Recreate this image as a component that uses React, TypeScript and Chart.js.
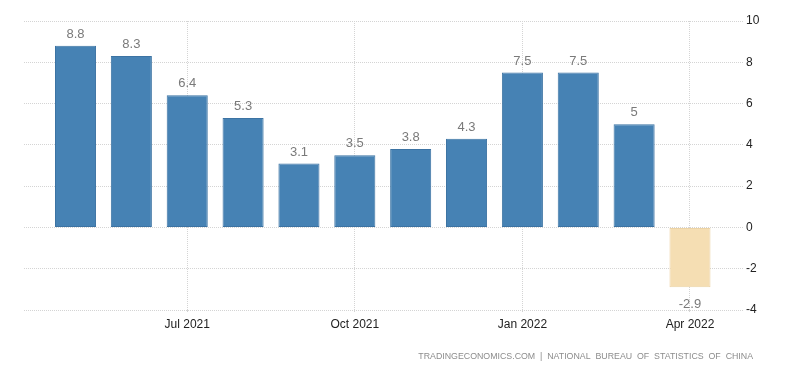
import React, { useEffect, useRef } from "react";
import { Chart, registerables } from "chart.js";

Chart.register(...registerables);

const months = [
  "May 2021", "Jun 2021", "Jul 2021", "Aug 2021", "Sep 2021", "Oct 2021",
  "Nov 2021", "Dec 2021", "Jan 2022", "Feb 2022", "Mar 2022", "Apr 2022",
];
const values = [8.8, 8.3, 6.4, 5.3, 3.1, 3.5, 3.8, 4.3, 7.5, 7.5, 5, -2.9];
const tickIndexes = [2, 5, 8, 11];
const yTicks = [-4, -2, 0, 2, 4, 6, 8, 10];
const sourceText = "TRADINGECONOMICS.COM  |  NATIONAL  BUREAU  OF  STATISTICS  OF  CHINA";

const FONT = "'Liberation Sans', Arial, sans-serif";

const labelPlugin = {
  id: "valueLabels",
  afterDatasetsDraw(chart: any) {
    const ctx = chart.ctx;
    const meta = chart.getDatasetMeta(0);
    ctx.save();
    ctx.font = `13px ${FONT}`;
    ctx.fillStyle = "#7a7a7a";
    ctx.textAlign = "center";
    meta.data.forEach((bar: any, i: number) => {
      const v = values[i];
      const txt = String(v);
      if (v >= 0) {
        ctx.textBaseline = "bottom";
        ctx.fillText(txt, bar.x, bar.y - 5);
      } else {
        ctx.textBaseline = "top";
        ctx.fillText(txt, bar.x, bar.y + 11);
      }
    });
    ctx.restore();
  },
  afterDraw(chart: any) {
    const ctx = chart.ctx;
    ctx.save();
    ctx.font = `8.8px ${FONT}`;
    ctx.fillStyle = "#8c8c8c";
    ctx.textAlign = "right";
    ctx.textBaseline = "middle";
    ctx.fillText(sourceText, 753, 357);
    ctx.restore();
  },
};

export default function App() {
  const ref = useRef<HTMLCanvasElement>(null);
  useEffect(() => {
    if (!ref.current) return;
    const chart = new Chart(ref.current, {
      type: "bar",
      data: {
        datasets: [
          {
            data: values.map((v, i) => ({ x: i, y: v })),
            backgroundColor: values.map((v) => (v >= 0 ? "#4682b4" : "#f5deb3")),
            borderColor: values.map((v) => (v >= 0 ? "#3c73a3" : "#ecd3a6")),
            borderWidth: 1,
            borderSkipped: false,
            categoryPercentage: 1,
            barPercentage: 0.735,
          } as any,
        ],
      },
      options: {
        animation: false,
        responsive: true,
        maintainAspectRatio: false,
        layout: { padding: { left: 24, top: 21, right: 0, bottom: 0 } },
        plugins: { legend: { display: false }, tooltip: { enabled: false } },
        scales: {
          x: {
            type: "linear",
            offset: false,
            min: -0.922,
            max: 11.949,
            afterBuildTicks: (scale: any) => {
              scale.ticks = tickIndexes.map((v) => ({ value: v }));
            },
            afterFit: (scale: any) => {
              scale.height = 63;
            },
            ticks: {
              autoSkip: false,
              maxRotation: 0,
              padding: 5,
              color: "#222222",
              font: { family: FONT, size: 12 },
              callback: (v: any) => months[v as number] ?? "",
            },
            grid: { offset: false, color: "#d4d4d4", drawTicks: true, tickLength: 2 },
            border: { display: false, dash: [1, 1] },
          },
          y: {
            position: "right",
            min: -4,
            max: 10,
            afterBuildTicks: (scale: any) => {
              scale.ticks = yTicks.map((v) => ({ value: v }));
            },
            afterFit: (scale: any) => {
              scale.width = 57;
            },
            ticks: {
              padding: 3,
              color: "#222222",
              font: { family: FONT, size: 12 },
            },
            grid: { color: "#d4d4d4", drawTicks: false },
            border: { display: false, dash: [1, 1] },
          },
        },
      },
      plugins: [labelPlugin],
    });
    return () => chart.destroy();
  }, []);
  return (
    <div style={{ position: "fixed", left: 0, top: 0, width: 800, height: 373, background: "#fff" }}>
      <canvas ref={ref} />
    </div>
  );
}
